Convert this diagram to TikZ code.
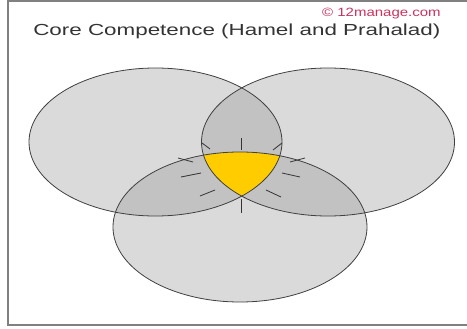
\documentclass[tikz,border=0pt]{standalone}
\usepackage{fontspec}
\setmainfont{Liberation Sans}
\usetikzlibrary{positioning}
\definecolor{onefill}{HTML}{DADADA}
\definecolor{twofill}{HTML}{C2C2C2}
\definecolor{corefill}{HTML}{FFCC00}
\definecolor{brand}{HTML}{C8325F}

\begin{document}
\begin{tikzpicture}[x=1pt,y=-1pt,
  rim/.style={draw=black!75, line width=0.8pt},
  spoke/.style={black!80, line width=0.8pt}]
  \useasboundingbox (0,0) rectangle (467,329);

  % Frame
  \draw[black!50, line width=1.5pt] (467,1) -- (8,1) -- (8,325) -- (467,325);

  % Ellipses
  \def\lft{(155.5,142) ellipse [x radius=126.5pt, y radius=74pt]}
  \def\rgt{(328,142) ellipse [x radius=126.5pt, y radius=74pt]}
  \def\btm{(240,227) ellipse [x radius=127pt, y radius=75pt]}
  \fill[onefill] \lft;
  \fill[onefill] \rgt;
  \fill[onefill] \btm;

  % Overlaps
  \begin{scope}
    \clip \lft;
    \fill[twofill] \rgt;
    \fill[twofill] \btm;
  \end{scope}
  \begin{scope}
    \clip \rgt;
    \fill[twofill] \btm;
  \end{scope}

  % Core (all three)
  \begin{scope}
    \clip \lft;
    \clip \rgt;
    \fill[corefill] \btm;
  \end{scope}

  \draw[rim] \lft;
  \draw[rim] \rgt;
  \draw[rim] \btm;

  % Spokes round the core
  \foreach \xa/\ya/\xb/\yb in {241.7/138/241.7/150, 241.7/199/241.7/213,
      202/143/210/149, 178/158/193/162, 181/177/201/173, 200/196/215/190,
      273/150/282/143, 290/162/305/158, 282/173/300/177, 266/190/281/197}
    \draw[spoke] (\xa,\ya) -- (\xb,\yb);

  % Texts
  \node[font=\fontsize{16}{18}\selectfont, text=black!80, xscale=1.4, anchor=base west, inner sep=0pt] (title) at (33,36) {Core Competence (Hamel and Prahalad)};
  \node[font=\fontsize{12}{14}\selectfont, text=brand, xscale=1.25, anchor=base east, inner sep=0pt] (copy) at (441,17) {© 12manage.com};
\end{tikzpicture}
\end{document}
